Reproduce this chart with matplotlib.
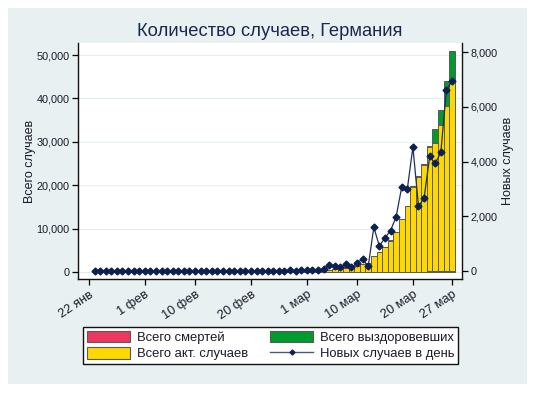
import numpy as np
import matplotlib
matplotlib.use("Agg")
import matplotlib.pyplot as plt
import matplotlib.dates as mdates
from matplotlib.patches import Patch, Rectangle
from matplotlib.lines import Line2D
from matplotlib.ticker import StrMethodFormatter, FixedLocator

plt.rcParams['font.family'] = ['Liberation Sans', 'DejaVu Sans']

# ---- data (Germany, 23 Jan - 27 Mar 2020) ----
start_date = '2020-01-23'
end_date = '2020-03-28'
confirmed = [0, 0, 0, 0, 1, 4, 4, 4, 5,
             8, 10, 12, 12, 12, 12, 13, 13, 14, 14, 16, 16, 16, 16, 16, 16, 16, 16, 16, 16,
             16, 16, 16, 16, 17, 27, 46, 48, 79,
             130, 159, 196, 262, 482, 670, 799, 1040, 1176, 1457, 1908, 2078, 3675, 4585,
             5795, 7272, 9257, 12327, 15320, 19848, 22213, 24873, 29056, 32986, 37323,
             43938, 50871]
deaths = [0] * 46 + [2, 2, 3, 3, 7, 9, 11, 17, 24, 28, 44, 67, 84, 94, 123, 157, 206, 267, 342]
recovered = ([0] * 20 + [1] * 6 + [12] * 3 + [14] * 8 + [16] +
             [16] * 6 + [18] * 4 + [25, 25, 46, 46, 46, 67, 67, 105, 113, 180, 233, 266, 266,
                                    3243, 3547, 5673, 6658])
new_cases = [0, 0, 0, 0, 1, 3, 0, 0, 1,
             3, 2, 2, 0, 0, 0, 1, 0, 1, 0, 2, 0, 0, 0, 0, 0, 0, 0, 0, 0,
             0, 0, 0, 0, 1, 10, 19, 2, 31,
             51, 29, 37, 66, 220, 188, 129, 241, 136, 281, 451, 170, 1597, 910,
             1210, 1477, 1985, 3070, 2993, 4528, 2365, 2660, 4183, 3930, 4337, 6615, 6933]
tick_dates = ['2020-01-22', '2020-02-01', '2020-02-10', '2020-02-20',
              '2020-03-01', '2020-03-10', '2020-03-20', '2020-03-27']
tick_labels = ['22 янв', '1 фев', '10 фев', '20 фев', '1 мар', '10 мар', '20 мар', '27 мар']
left_ticks = [0, 10000, 20000, 30000, 40000, 50000]
right_ticks = [0, 2000, 4000, 6000, 8000]
legend_labels = ['Всего смертей', 'Всего акт. случаев', 'Всего выздоровевших', 'Новых случаев в день']
title = 'Количество случаев, Германия'

dates = np.arange(np.datetime64(start_date), np.datetime64(end_date)).astype('datetime64[D]')
x = mdates.date2num(dates.astype('O'))
confirmed = np.array(confirmed, float)
deaths = np.array(deaths, float)
recovered = np.array(recovered, float)
active = confirmed - deaths - recovered

# ---- styles ----
C_RED = '#ec3760'
C_YEL = '#ffd800'
C_GRN = '#009a2e'
C_LINE = '#1f2f60'
C_MARK = '#0c2150'
C_EDGE = '#5a5a5a'
C_TXT = '#1a1a28'
C_PANEL = '#e8f0f2'

W, H = 535, 393
fig = plt.figure(figsize=(W / 100, H / 100), dpi=100, facecolor='white')
fig.patches.append(Rectangle((8 / W, 1 - 384 / H), 519 / W, 376 / H,
                             transform=fig.transFigure, facecolor=C_PANEL,
                             edgecolor='none', zorder=-10))

ax = fig.add_axes([78 / W, 1 - 279 / H, 384 / W, 236 / H])
ax.set_facecolor('white')
bw = 1.0
ax.bar(x, deaths, width=bw, color=C_RED, edgecolor=C_EDGE, linewidth=0.7, zorder=2)
ax.bar(x, active, width=bw, bottom=deaths, color=C_YEL, edgecolor=C_EDGE, linewidth=0.7, zorder=2)
ax.bar(x, recovered, width=bw, bottom=deaths + active, color=C_GRN, edgecolor=C_EDGE,
       linewidth=0.7, zorder=2)

xt = mdates.date2num(np.array(tick_dates, dtype='datetime64[D]').astype('O'))
ax.set_xlim(xt[0] - 1.96, xt[-1] + 1.79)
ax.xaxis.set_major_locator(FixedLocator(xt))
ax.set_xticklabels(tick_labels, rotation=34, ha='right', rotation_mode='anchor',
                   fontsize=9.2, color=C_TXT)
ax.set_ylim(-1613, 52765)
ax.set_yticks(left_ticks)
ax.yaxis.set_major_formatter(StrMethodFormatter('{x:,.0f}'))
ax.tick_params(axis='y', labelsize=7.8, labelcolor=C_TXT, length=4, width=0.9, pad=2)
ax.tick_params(axis='x', length=4, width=0.9, pad=3)
ax.grid(axis='y', color='#e4edf0', linewidth=0.8, zorder=0)
ax.set_axisbelow(True)
ax.spines['top'].set_visible(False)
ax.spines['right'].set_visible(False)
for s in ('left', 'bottom'):
    ax.spines[s].set_linewidth(1.0)
    ax.spines[s].set_color('#111111')

ax2 = ax.twinx()
ax2.plot(x, new_cases, color=C_LINE, linewidth=0.9, marker='D', markersize=3.5,
         markerfacecolor=C_MARK, markeredgecolor=C_MARK, zorder=3)
ax2.set_ylim(-292, 8329)
ax2.set_yticks(right_ticks)
ax2.yaxis.set_major_formatter(StrMethodFormatter('{x:,.0f}'))
ax2.tick_params(axis='y', labelsize=7.8, labelcolor=C_TXT, length=4, width=0.9, pad=2)
ax2.spines['top'].set_visible(False)
ax2.spines['left'].set_visible(False)
ax2.spines['bottom'].set_visible(False)
ax2.spines['right'].set_linewidth(1.0)
ax2.spines['right'].set_color('#111111')

fig.text(270 / W, 1 - 31 / H, title, ha='center', va='center', fontsize=13.2, color='#1a2850')
fig.text(30 / W, 1 - 161 / H, 'Всего случаев', rotation=90, ha='center', va='center',
         fontsize=9, color=C_TXT)
fig.text(508 / W, 1 - 161 / H, 'Новых случаев', rotation=90, ha='center', va='center',
         fontsize=9, color=C_TXT)

handles = [Patch(facecolor=C_RED, edgecolor=C_EDGE, linewidth=0.8),
           Patch(facecolor=C_YEL, edgecolor=C_EDGE, linewidth=0.8),
           Patch(facecolor=C_GRN, edgecolor=C_EDGE, linewidth=0.8),
           Line2D([], [], color='#4a5a88', linewidth=1.0, marker='D', markersize=2.5,
                  markerfacecolor=C_MARK, markeredgecolor=C_MARK)]
leg = fig.legend(handles, legend_labels, ncol=2, loc='center',
                 bbox_to_anchor=(83 / W, 1 - 367 / H, 375 / W, 43 / H), mode='expand',
                 fontsize=9.4, frameon=True, fancybox=False, framealpha=1,
                 handlelength=3.3, handleheight=1.0, handletextpad=0.5,
                 columnspacing=0.8, labelspacing=0.25, borderpad=0.3, borderaxespad=0)
leg.get_frame().set_edgecolor('#111111')
leg.get_frame().set_linewidth(1.0)
for t in leg.get_texts():
    t.set_color(C_TXT)

fig.savefig('out.png', dpi=100, facecolor='white')
